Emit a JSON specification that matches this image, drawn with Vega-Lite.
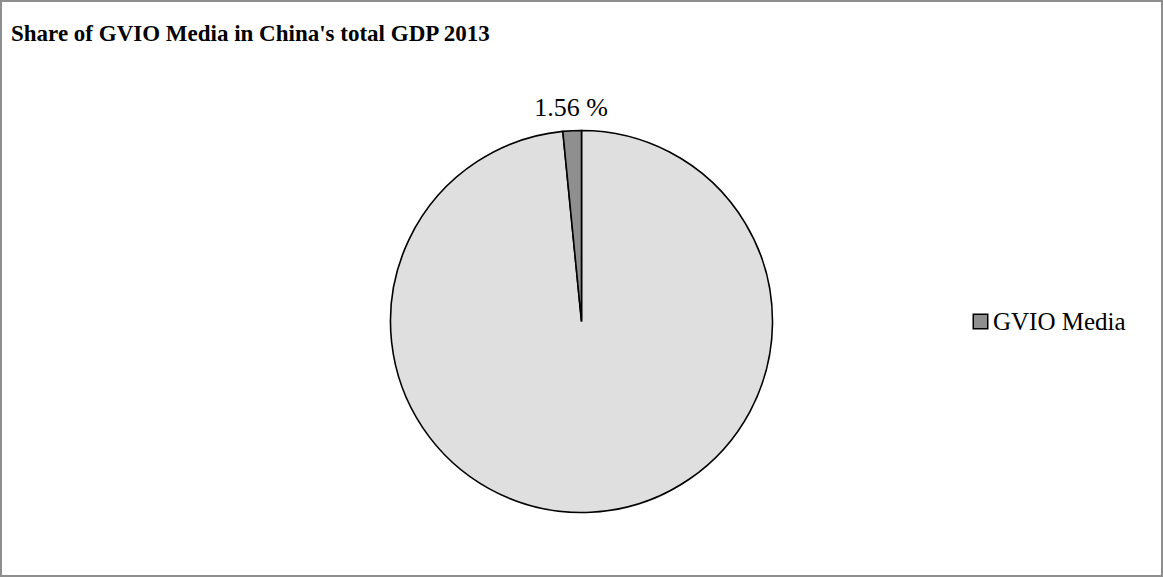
{
  "$schema": "https://vega.github.io/schema/vega-lite/v6.json",
  "width": 1161,
  "height": 575,
  "padding": 1,
  "autosize": {"type": "none"},
  "background": "white",
  "title": {
    "text": "Share of GVIO Media in China's total GDP 2013",
    "anchor": "start",
    "orient": "top",
    "offset": -46,
    "dx": 11,
    "font": "Liberation Serif",
    "fontSize": 23,
    "fontWeight": "bold",
    "color": "black"
  },
  "data": {
    "values": [
      {"category": "Other", "share": 98.44, "order": 1, "label": ""},
      {"category": "GVIO Media", "share": 1.56, "order": 2, "label": "1.56 %"}
    ]
  },
  "layer": [
    {
      "data": {"values": [{"frame": 1}]},
      "mark": {"type": "rect", "fill": null, "stroke": "#8e8e8e", "strokeWidth": 2},
      "encoding": {
        "x": {"value": 0},
        "x2": {"value": "width"},
        "y": {"value": 0},
        "y2": {"value": "height"}
      }
    },
    {
      "mark": {"type": "arc", "radius": 191, "stroke": "black", "strokeWidth": 1.6, "y": {"expr": "height/2 + 33"}},
      "encoding": {
        "theta": {"field": "share", "type": "quantitative", "stack": true},
        "order": {"field": "order", "type": "quantitative"},
        "color": {
          "field": "category",
          "type": "nominal",
          "scale": {"domain": ["Other", "GVIO Media"], "range": ["#dfdfdf", "#8f8f8f"]},
          "legend": {
            "values": ["GVIO Media"],
            "title": null,
            "orient": "none",
            "legendX": 967,
            "legendY": 308,
            "symbolType": "square",
            "symbolSize": 210,
            "symbolStrokeColor": "black",
            "symbolStrokeWidth": 1.5,
            "symbolOpacity": 1,
            "labelFont": "Liberation Serif",
            "labelFontSize": 25,
            "labelColor": "black",
            "labelOffset": 0
          }
        }
      }
    },
    {
      "mark": {"type": "text", "radius": 214, "font": "Liberation Serif", "fontSize": 26, "color": "black", "y": {"expr": "height/2 + 33"}},
      "encoding": {
        "theta": {"field": "share", "type": "quantitative", "stack": true},
        "order": {"field": "order", "type": "quantitative"},
        "text": {"field": "label", "type": "nominal"}
      }
    }
  ]
}
